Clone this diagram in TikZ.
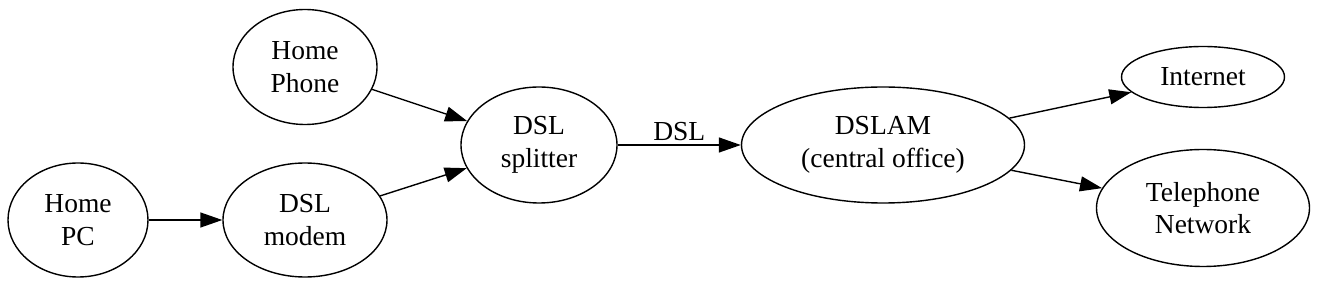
\documentclass[tikz,border=0pt]{standalone}
\usepackage{fontspec}
\setmainfont{Liberation Serif}
\usetikzlibrary{shapes.geometric,arrows.meta}
\tikzset{
  gnode/.style={ellipse, draw, line width=1.4pt, inner sep=0pt, align=center,
    font=\fontsize{27.5}{32.5}\selectfont},
  gedge/.style={line width=1.4pt, -{Triangle[length=22pt,width=15pt]}},
}
\begin{document}
\begin{tikzpicture}[x=1pt,y=-1pt]
\useasboundingbox (0,0) rectangle (1318,288);
\node[gnode, minimum width=140pt, minimum height=114pt] (pc) at (78,220) {Home\\PC};
\node[gnode, minimum width=164pt, minimum height=114pt] (modem) at (305,220) {DSL\\modem};
\node[gnode, minimum width=144pt, minimum height=115pt] (phone) at (305,67) {Home\\Phone};
\node[gnode, minimum width=156pt, minimum height=116pt] (splitter) at (539,145) {DSL\\splitter};
\node[gnode, minimum width=283pt, minimum height=116pt] (dslam) at (883,145) {DSLAM\\(central office)};
\node[gnode, minimum width=163pt, minimum height=61pt] (internet) at (1203,77) {Internet};
\node[gnode, minimum width=213pt, minimum height=117pt] (tel) at (1203,208) {Telephone\\Network};
\draw[gedge] (pc) -- (modem);
\draw[gedge] (phone) -- (splitter);
\draw[gedge] (modem) -- (splitter);
\draw[gedge] (splitter) -- node[above=2pt, font=\fontsize{27.5}{32.5}\selectfont, inner sep=2pt] (dsllabel) {DSL} (dslam);
\draw[gedge] (dslam) -- (internet);
\draw[gedge] (dslam) -- (tel);
\end{tikzpicture}
\end{document}
